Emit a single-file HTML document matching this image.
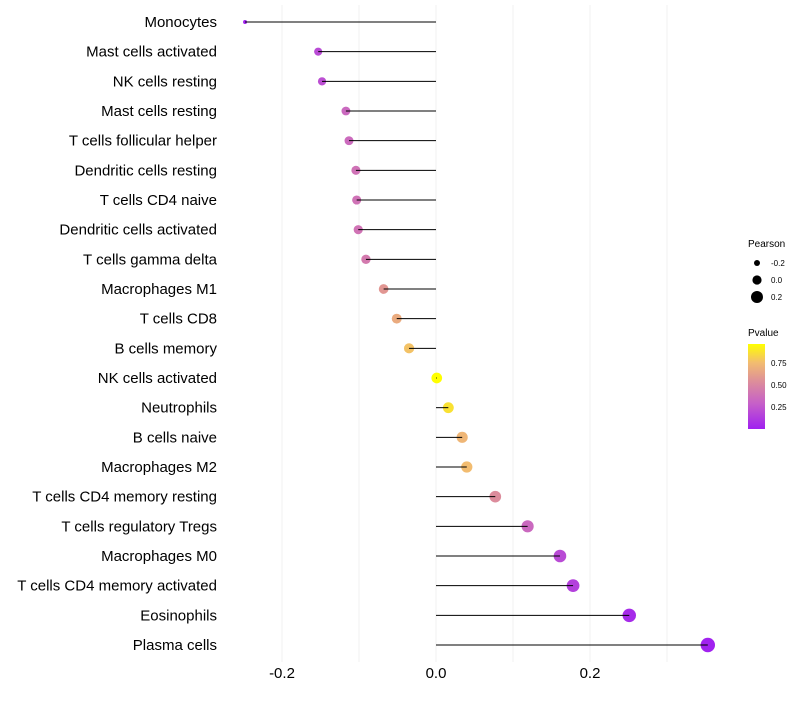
<!DOCTYPE html>
<html><head><meta charset="utf-8"><style>
body{margin:0;background:#fff;font-family:"Liberation Sans",sans-serif}
svg text{font-family:"Liberation Sans",sans-serif}
</style></head><body>
<svg id="chart" width="800" height="700">
<defs><linearGradient id="pg" x1="0" y1="1" x2="0" y2="0">
<stop offset="0" stop-color="#a020f0"/><stop offset="0.3" stop-color="#c660c8"/><stop offset="0.55" stop-color="#dc8c9c"/><stop offset="0.78" stop-color="#f2bc70"/><stop offset="1" stop-color="#ffff00"/></linearGradient></defs>
<g id="grid"></g><g id="marks"></g><g id="labels"></g><g id="xaxis"></g>
<g>
<text x="748" y="247" font-size="10">Pearson</text>
<circle cx="757" cy="263" r="3" fill="#000"/><text x="771" y="266" font-size="8">-0.2</text>
<circle cx="757" cy="280" r="4.6" fill="#000"/><text x="771" y="283" font-size="8">0.0</text>
<circle cx="757" cy="297" r="6" fill="#000"/><text x="771" y="300" font-size="8">0.2</text>
<text x="748" y="336" font-size="10">Pvalue</text>
<rect x="748" y="344" width="17" height="85" fill="url(#pg)"/>
<text x="771" y="366" font-size="8">0.75</text><text x="771" y="388" font-size="8">0.50</text><text x="771" y="410" font-size="8">0.25</text>
</g>
</svg>
<script>
const categories=["Monocytes","Mast cells activated","NK cells resting","Mast cells resting","T cells follicular helper","Dendritic cells resting","T cells CD4 naive","Dendritic cells activated","T cells gamma delta","Macrophages M1","T cells CD8","B cells memory","NK cells activated","Neutrophils","B cells naive","Macrophages M2","T cells CD4 memory resting","T cells regulatory  Tregs ","Macrophages M0","T cells CD4 memory activated","Eosinophils","Plasma cells"];
const pearson=[-0.248,-0.153,-0.148,-0.117,-0.113,-0.104,-0.103,-0.101,-0.091,-0.068,-0.051,-0.035,0.001,0.016,0.034,0.040,0.077,0.119,0.161,0.178,0.251,0.353];
const pvalue=[0.01,0.2,0.22,0.35,0.36,0.4,0.4,0.41,0.45,0.6,0.7,0.8,1.0,0.9,0.75,0.78,0.55,0.35,0.2,0.15,0.05,0.01];
const xticks=[-0.2,0.0,0.2];
const xtickLabels=["-0.2","0.0","0.2"];
const NS="http://www.w3.org/2000/svg";
const X=v=>436+v*770;
const Y=i=>22+i*(623/21);
const stops=[[0,[160,32,240]],[0.3,[198,96,200]],[0.55,[220,140,156]],[0.78,[242,188,112]],[1,[255,255,0]]];
function col(p){for(let k=1;k<stops.length;k++){if(p<=stops[k][0]){const a=stops[k-1],b=stops[k],t=(p-a[0])/(b[0]-a[0]);return "rgb("+a[1].map((c,j)=>Math.round(c+(b[1][j]-c)*t)).join(",")+")";}}return "rgb(255,255,0)";}
function mk(t,at,parent){const e=document.createElementNS(NS,t);for(const k in at)e.setAttribute(k,at[k]);parent.appendChild(e);return e;}
const grid=document.getElementById('grid'),marks=document.getElementById('marks'),labels=document.getElementById('labels'),xa=document.getElementById('xaxis');
for(let v=-0.2;v<=0.31;v+=0.1){const l=mk('line',{x1:X(v),x2:X(v),y1:5,y2:662,stroke:'#f2f2f2','stroke-width':1},grid);

}
const vmin=Math.min(...pearson),vmax=Math.max(...pearson);
categories.forEach((c,i)=>{
const y=Y(i),v=pearson[i];
const f=(v-vmin)/(vmax-vmin);
const r=2+5.2*Math.sqrt(f);
const dot=mk('circle',{cx:X(v),cy:y,r:r,fill:col(pvalue[i])},marks);


const seg=mk('line',{x1:X(0),x2:X(v),y1:y,y2:y,stroke:'#000','stroke-width':1},marks);


const t=mk('text',{x:217,y:y+5,'text-anchor':'end','font-size':15,fill:'#000'},labels);
t.textContent=c;


});
xticks.forEach((v,i)=>{const t=mk('text',{x:X(v),y:678,'text-anchor':'middle','font-size':15,fill:'#000'},xa);
t.textContent=xtickLabels[i];

});
</script>
</body></html>
